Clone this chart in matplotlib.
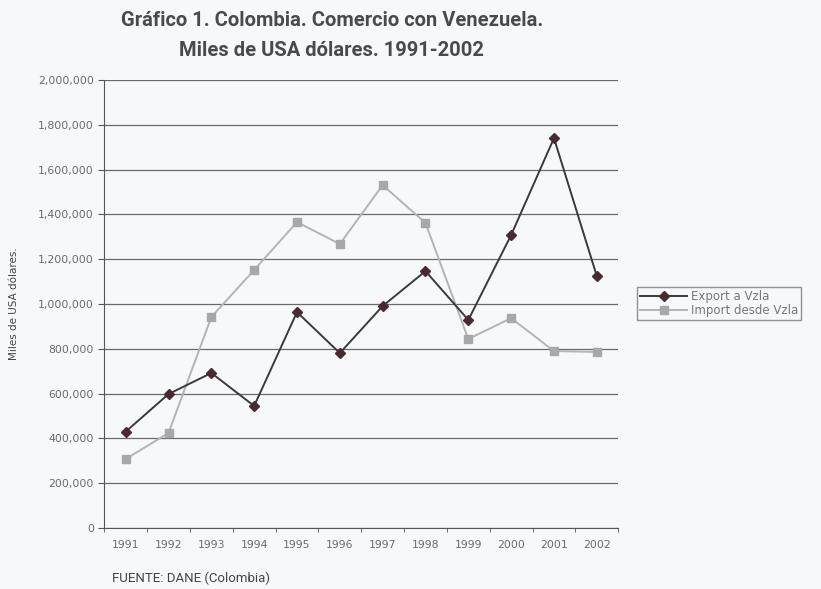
import matplotlib
matplotlib.use('Agg')
import matplotlib.pyplot as plt
from matplotlib.ticker import FuncFormatter, FixedLocator

years = ['1991', '1992', '1993', '1994', '1995', '1996', '1997', '1998', '1999', '2000', '2001', '2002']
export_vzla = [430000, 598000, 692000, 545000, 964000, 781000, 991000, 1147000, 929000, 1308000, 1741000, 1125000]
import_vzla = [308000, 424000, 942000, 1152000, 1366000, 1268000, 1531000, 1362000, 844000, 937000, 790000, 786000]

plt.rcParams['font.family'] = ['DejaVu Sans']
bg = '#f6f8fa'
txt = '#6a6a6a'
title_font = ['Roboto', 'DejaVu Sans']

fig = plt.figure(figsize=(8.21, 5.89), dpi=100, facecolor=bg)
ax = fig.add_axes([0.127, 0.1036, 0.626, 0.7604])
ax.set_facecolor(bg)

x = list(range(len(years)))
ax.plot(x, export_vzla, color='#3a3a3a', lw=1.4, marker='D', ms=5.5,
        mfc='#4a2a30', mec='#4a2a30', label='Export a Vzla', zorder=4)
ax.plot(x, import_vzla, color='#b4b4b4', lw=1.4, marker='s', ms=5.5,
        mfc='#a8a8a8', mec='#a8a8a8', label='Import desde Vzla', zorder=3)

ax.set_xlim(-0.5, len(years) - 0.5)
ax.set_ylim(0, 2000000)
ax.set_yticks(range(0, 2000001, 200000))
ax.yaxis.set_major_formatter(FuncFormatter(lambda v, p: f'{int(v):,}'))
ax.set_xticks(x)
ax.set_xticklabels(years)
ax.xaxis.set_minor_locator(FixedLocator([i - 0.5 for i in range(len(years) + 1)]))
ax.tick_params(axis='x', which='major', length=0, labelsize=7.8, colors=txt, pad=9)
ax.tick_params(axis='x', which='minor', length=3, color='#555555')
ax.tick_params(axis='y', length=4, color='#555555', labelsize=7.8, colors=txt)
ax.grid(axis='y', color='#6a6a6a', lw=0.9)
ax.set_axisbelow(True)

for s in ['top', 'right']:
    ax.spines[s].set_visible(False)
ax.spines['left'].set_color('#555555')
ax.spines['bottom'].set_color('#555555')

ax.set_ylabel('Miles de USA dólares.', fontsize=7.5, color='#444444', labelpad=14)

leg = fig.legend(loc='upper left', bbox_to_anchor=(0.769, 0.522), fontsize=8.5,
                 frameon=True, fancybox=False, edgecolor='#777777',
                 facecolor=bg, handlelength=4, labelspacing=0.05,
                 borderpad=0.25, handletextpad=0.3)
for t in leg.get_texts():
    t.set_color('#777777')

fig.text(0.404, 0.966, 'Gráfico 1. Colombia. Comercio con Venezuela.',
         ha='center', va='center', fontsize=14.5, fontweight='bold', color='#4a4a4a',
         family=title_font)
fig.text(0.404, 0.915, 'Miles de USA dólares. 1991-2002',
         ha='center', va='center', fontsize=14.5, fontweight='bold', color='#4a4a4a',
         family=title_font)
fig.text(0.137, 0.018, 'FUENTE: DANE (Colombia)', ha='left', va='center',
         fontsize=9.5, color='#444444', family=title_font)

fig.savefig('out.png', dpi=100, facecolor=bg)
